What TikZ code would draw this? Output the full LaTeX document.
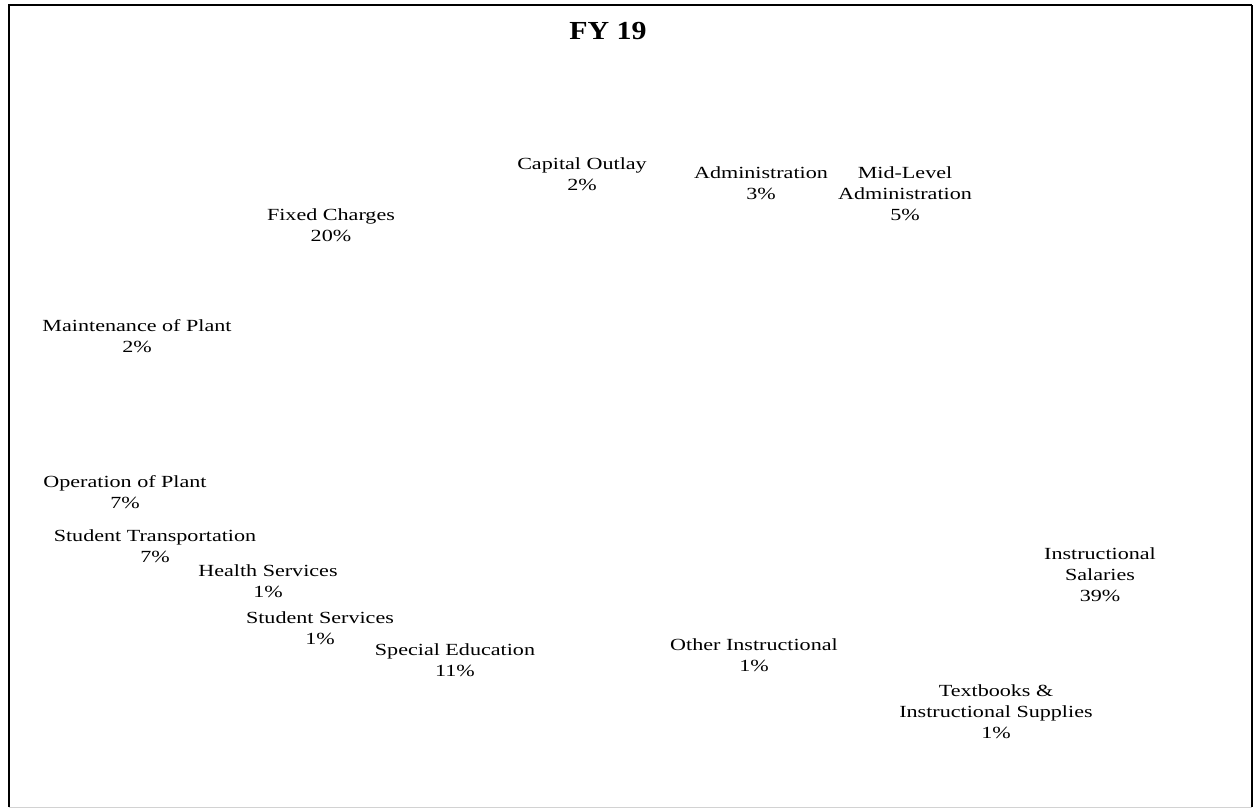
\documentclass[tikz,border=0pt]{standalone}
\usepackage{fontspec}
\newfontfamily\labfont{Liberation Serif}[FakeStretch=1.3]
\newfontfamily\titlefont{Liberation Serif}[FakeStretch=1.15]
\begin{document}
\begin{tikzpicture}[x=1pt,y=-1pt,
  lbl/.style={align=center,inner sep=0pt,font={\labfont\fontsize{17}{21}\selectfont}},
  ttl/.style={inner sep=0pt,font={\titlefont\bfseries\fontsize{26}{30}\selectfont}}]
\useasboundingbox (0,0) rectangle (1254,809);
% frame
\draw[gray!35,line width=1pt] (9,807) -- (1252,807);
\draw[black,line width=1.3pt] (1252,5) -- (1252,807);
\draw[black,line width=2.6pt] (9,807) -- (9,5) -- (1252,5);
% title
\node[ttl] (title) at (608,31) {FY 19};
% labels
\node[lbl] (cap) at (582,174) {Capital Outlay\\2\%};
\node[lbl] (adm) at (761,183.5) {Administration\\3\%};
\node[lbl] (mid) at (905,194) {Mid-Level\\Administration\\5\%};
\node[lbl] (fix) at (331,225) {Fixed Charges\\20\%};
\node[lbl] (mnt) at (137,336) {Maintenance of Plant\\2\%};
\node[lbl] (opr) at (125,492) {Operation of Plant\\7\%};
\node[lbl] (trn) at (155,546) {Student Transportation\\7\%};
\node[lbl] (hlt) at (268,581.5) {Health Services\\1\%};
\node[lbl] (ssv) at (320,628) {Student Services\\1\%};
\node[lbl] (spe) at (455,660.5) {Special Education\\11\%};
\node[lbl] (oth) at (754,655.5) {Other Instructional\\1\%};
\node[lbl] (sal) at (1100,575) {Instructional\\Salaries\\39\%};
\node[lbl] (txt) at (996,711.5) {Textbooks \&\\Instructional Supplies\\1\%};
\end{tikzpicture}
\end{document}
